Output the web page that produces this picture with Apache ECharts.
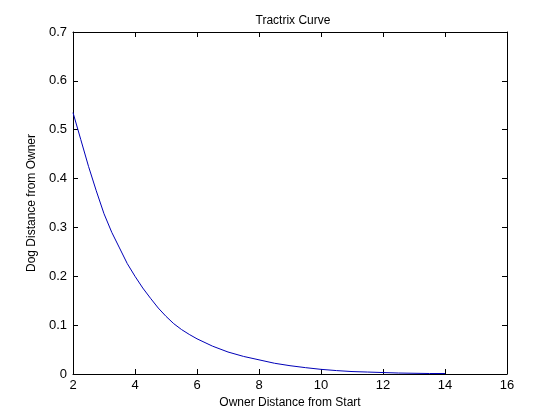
<!DOCTYPE html>
<html>
<head>
<meta charset="utf-8">
<script src="https://cdn.jsdelivr.net/npm/echarts@6/dist/echarts.min.js"></script>
<style>
  html, body { margin: 0; padding: 0; background: #fff; }
  #main { width: 560px; height: 420px; }
</style>
</head>
<body>
<div id="main"></div>
<script>
// 数值
var ownerDist = [2, 2.25, 2.5, 2.75, 3, 3.25, 3.5, 3.75, 4, 4.25, 4.5, 4.75, 5, 5.25, 5.5, 5.75, 6, 6.5, 7, 7.5, 8, 8.5, 9, 9.5, 10, 10.5, 11, 11.5, 12, 12.5, 13, 13.5, 14];
var dogDist = [0.535, 0.48, 0.425, 0.375, 0.328, 0.29, 0.258, 0.226, 0.2, 0.176, 0.155, 0.135, 0.118, 0.103, 0.091, 0.081, 0.072, 0.057, 0.045, 0.036, 0.029, 0.022, 0.017, 0.013, 0.0095, 0.007, 0.005, 0.004, 0.003, 0.002, 0.0015, 0.001, 0.001];

var xTicks = [2, 4, 6, 8, 10, 12, 14, 16];
var yTicks = [0, 0.1, 0.2, 0.3, 0.4, 0.5, 0.6, 0.7];

var fontName = 'Liberation Sans, Arial, sans-serif';

// 把两组数组拼成点
var points = ownerDist.map(function(x, i) {
    return [x, dogDist[i]];
});

function boxAxis(pos, isX, showLabel) {
    var ticks = isX ? xTicks : yTicks;
    return {
        type: 'value',
        position: pos,
        min: ticks[0],
        max: ticks[ticks.length - 1],
        interval: ticks[1] - ticks[0],
        axisLine: { show: true, onZero: false, lineStyle: { color: '#000', width: 1 } },
        axisTick: { show: true, inside: true, length: 5, lineStyle: { color: '#000' } },
        axisLabel: {
            show: showLabel,
            color: '#000',
            fontSize: 13,
            fontFamily: fontName,
            margin: isX ? 5 : 6,
            formatter: function(v) { return String(Math.round(v * 10) / 10); }
        },
        splitLine: { show: false }
    };
}

var chart = echarts.init(document.getElementById('main'));

var xBottom = boxAxis('bottom', true, true);
xBottom.name = 'Owner Distance from Start';
xBottom.nameLocation = 'middle';
xBottom.nameGap = 21;
xBottom.nameTextStyle = { color: '#000', fontSize: 12, fontFamily: fontName };

var yLeft = boxAxis('left', false, true);
yLeft.name = 'Dog Distance from Owner';
yLeft.nameLocation = 'middle';
yLeft.nameGap = 29;
yLeft.nameTextStyle = { color: '#000', fontSize: 12, fontFamily: fontName };

var option = {
    backgroundColor: '#fff',
    animation: false,
    title: {
        text: 'Tractrix Curve',
        left: 288,
        textAlign: 'center',
        top: 10,
        textStyle: { color: '#000', fontSize: 12, fontWeight: 'normal', fontFamily: fontName }
    },
    grid: { left: 73, right: 53, top: 32, bottom: 46 },
    xAxis: [xBottom, boxAxis('top', true, false)],
    yAxis: [yLeft, boxAxis('right', false, false)],
    series: [{
        type: 'line',
        data: points,
        smooth: false,
        showSymbol: false,
        lineStyle: { color: '#0000b8', width: 1 }
    }]
};

chart.setOption(option);
</script>
</body>
</html>
